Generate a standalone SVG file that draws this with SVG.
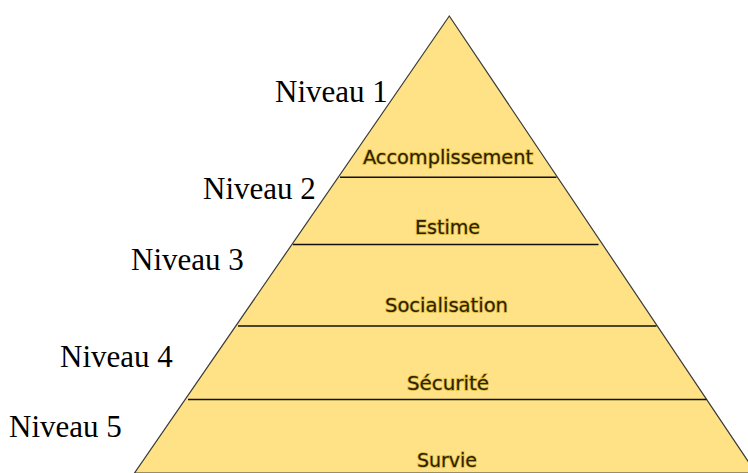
<svg xmlns="http://www.w3.org/2000/svg" width="748" height="473" viewBox="0 0 748 473">
<style>
.niv{font-family:"Liberation Serif","Times New Roman",serif;font-size:31px;fill:#000}
.lab{font-family:"DejaVu Sans",Verdana,sans-serif;font-size:19.5px;fill:#2a2200;stroke:#c9a010;stroke-width:1.6px;stroke-opacity:0.7;paint-order:stroke;text-anchor:middle}
.sep{stroke:#111;stroke-width:1.5;fill:none}
</style>
<rect width="748" height="473" fill="#fff"/>
<g id="pyramid">
<polygon points="449.3,16 134.5,473 756,473" fill="#FEE285" stroke="#3a3a3a" stroke-width="1.2"/>
</g>
<g id="connectors">
<line class="sep" x1="340" y1="177.3" x2="556.5" y2="177.3"/>
<line class="sep" x1="293" y1="244.5" x2="598.5" y2="244.5"/>
<line class="sep" x1="238" y1="326" x2="656.5" y2="326"/>
<line class="sep" x1="188" y1="399.5" x2="706.5" y2="399.5"/>
</g>
<g id="level1"><text class="lab" x="448" y="164" textLength="170" lengthAdjust="spacingAndGlyphs">Accomplissement</text></g>
<g id="level2"><text class="lab" x="447.5" y="233.5" textLength="65" lengthAdjust="spacingAndGlyphs">Estime</text></g>
<g id="level3"><text class="lab" x="446.5" y="311.7" textLength="123" lengthAdjust="spacingAndGlyphs">Socialisation</text></g>
<g id="level4"><text class="lab" x="448" y="390" textLength="82" lengthAdjust="spacingAndGlyphs">Sécurité</text></g>
<g id="level5"><text class="lab" x="447" y="466.7" textLength="60" lengthAdjust="spacingAndGlyphs">Survie</text></g>
<g id="n1"><text class="niv" x="275" y="102">Niveau 1</text></g>
<g id="n2"><text class="niv" x="203" y="199">Niveau 2</text></g>
<g id="n3"><text class="niv" x="131" y="270">Niveau 3</text></g>
<g id="n4"><text class="niv" x="60" y="367">Niveau 4</text></g>
<g id="n5"><text class="niv" x="9" y="437">Niveau 5</text></g>
</svg>
